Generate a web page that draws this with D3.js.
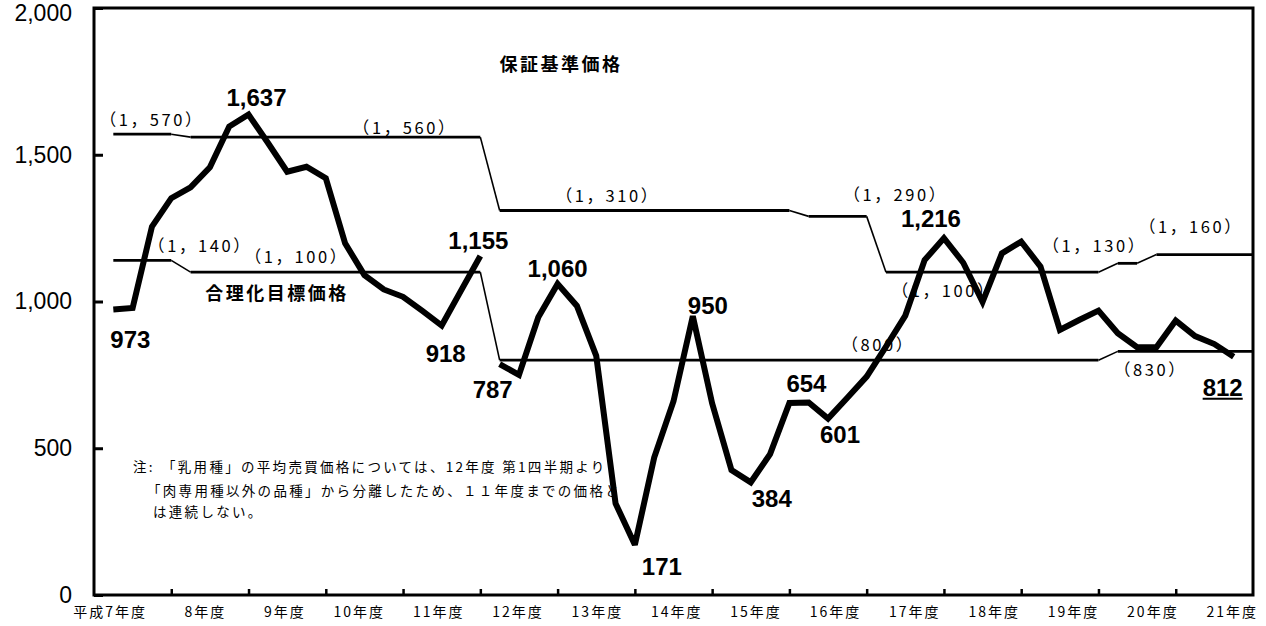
<!DOCTYPE html>
<html>
<head>
<meta charset="utf-8">
<script src="https://cdn.jsdelivr.net/npm/d3@7"></script>
<style>
  html, body { margin: 0; padding: 0; background: #fff; }
  svg { display: block; }
</style>
</head>
<body>
<div id="chart"></div>
<script>
// fiscal year labels
const fiscalYears = ['平成7年度', '8年度', '9年度', '10年度', '11年度', '12年度', '13年度',
  '14年度', '15年度', '16年度', '17年度', '18年度', '19年度', '20年度', '21年度'];

// quarterly average price, H7 Q1 - H11 Q4 (肉専用種以外の品種)
const priceOld = [973, 978, 1255, 1352, 1389, 1457, 1596, 1637, 1541, 1442,
  1459, 1420, 1198, 1090, 1041, 1016, 968, 918, 1037, 1155];

// quarterly average price, H12 Q1 - H21 Q3 (乳用種)
const priceNew = [787, 750, 946, 1060, 985, 815, 312, 171, 468, 660,
  950, 653, 426, 384, 480, 654, 656, 601, 672, 744,
  846, 952, 1141, 1216, 1132, 999, 1164, 1204, 1119, 903,
  937, 969, 892, 844, 844, 935, 882, 855, 812];

// 保証基準価格, per quarter
const guaranteePrice = [
  1570, 1570, 1570, 1570,
  1560, 1560, 1560, 1560,
  1560, 1560, 1560, 1560,
  1560, 1560, 1560, 1560,
  1560, 1560, 1560, 1560,
  1310, 1310, 1310, 1310,
  1310, 1310, 1310, 1310,
  1310, 1310, 1310, 1310,
  1310, 1310, 1310, 1310,
  1290, 1290, 1290, 1290,
  1100, 1100, 1100, 1100,
  1100, 1100, 1100, 1100,
  1100, 1100, 1100, 1100,
  1130, 1130, 1160, 1160,
  1160, 1160, 1160, 1160];

// 合理化目標価格, per quarter
const targetPrice = [
  1140, 1140, 1140, 1140,
  1100, 1100, 1100, 1100,
  1100, 1100, 1100, 1100,
  1100, 1100, 1100, 1100,
  1100, 1100, 1100, 1100,
  800, 800, 800, 800,
  800, 800, 800, 800,
  800, 800, 800, 800,
  800, 800, 800, 800,
  800, 800, 800, 800,
  800, 800, 800, 800,
  800, 800, 800, 800,
  800, 800, 800, 800,
  830, 830, 830, 830,
  830, 830, 830, 830];

const yTicks = [0, 500, 1000, 1500, 2000];

// labelled quarters (index into the combined quarterly series)
const labelledQuarters = [0, 7, 17, 19, 20, 23, 27, 30, 33, 35, 37, 43, 58];

// price-level annotations: [text, quarter position, level]
const levelNotes = [
  ['（1，570）', 2.0, 1570], ['（1，560）', 15.1, 1560], ['（1，140）', 4.5, 1140],
  ['（1，100）', 9.5, 1100], ['（1，310）', 25.6, 1310], ['（1，290）', 40.5, 1290],
  ['（1，100）', 43.0, 1100], ['（800）', 39.6, 800], ['（1，130）', 50.8, 1130],
  ['（1，160）', 55.8, 1160], ['（830）', 53.7, 830]
];

const noteLines = [
  '「乳用種」の平均売買価格については、12年度 第1四半期より',
  '「肉専用種以外の品種」から分離したため、１１年度までの価格と',
  'は連続しない。'
];

// ---- layout ----
const width = 1266, height = 626;
const plotLeft = 94, plotRight = 1253, plotTop = 8, plotBottom = 595;

const svg = d3.select('#chart').append('svg')
  .attr('width', width)
  .attr('height', height);

// quarter index -> x (points sit at the end of each quarter)
const x = d3.scaleLinear().domain([-1, 59]).range([plotLeft, plotRight]);
const y = d3.scaleLinear().domain([0, 2000]).range([plotBottom, plotTop]);
const yearLabelX = d3.scalePoint().domain(fiscalYears).range([147, 1258]);

const jp = '"Noto Sans CJK JP", "Noto Sans", sans-serif';
const num = '"Liberation Sans", Arial, sans-serif';

// y axis (ticks inside)
const yAxis = svg.append('g')
  .attr('transform', `translate(${plotLeft},0)`)
  .call(d3.axisLeft(y).tickValues(yTicks).tickSize(-9).tickPadding(22).tickFormat(d3.format(',')));
yAxis.select('.domain').remove();
yAxis.selectAll('line').attr('stroke', '#000').attr('stroke-width', 3);
yAxis.selectAll('text')
  .attr('fill', '#000')
  .attr('dy', d => d === 2000 ? '0.55em' : '0.32em')
  .style('font-family', num)
  .style('font-size', '23px');

// x axis ticks at fiscal year boundaries
const yearBounds = d3.range(1, fiscalYears.length).map(k => 4 * k - 1);
const xAxis = svg.append('g')
  .attr('transform', `translate(0,${plotBottom})`)
  .call(d3.axisBottom(x).tickValues(yearBounds).tickSize(-6).tickFormat(''));
xAxis.select('.domain').remove();
xAxis.selectAll('line').attr('stroke', '#000').attr('stroke-width', 2.5);

svg.append('g').selectAll('text')
  .data(fiscalYears)
  .join('text')
  .attr('x', d => yearLabelX(d))
  .attr('y', 617)
  .attr('text-anchor', 'end')
  .style('font-family', jp)
  .style('font-size', '14px')
  .style('letter-spacing', '2px')
  .text(d => d);

// frame
svg.append('rect')
  .attr('x', plotLeft).attr('y', plotTop)
  .attr('width', plotRight - plotLeft).attr('height', plotBottom - plotTop)
  .attr('fill', 'none')
  .attr('stroke', '#000')
  .attr('stroke-width', 3);

// step lines: flat runs drawn heavier, transitions thin
function drawSteps(values) {
  const g = svg.append('g').attr('stroke', '#000').attr('fill', 'none');
  let start = 0;
  for (let i = 1; i <= values.length; i++) {
    if (i === values.length || values[i] !== values[start]) {
      g.append('line')
        .attr('x1', x(start)).attr('x2', Math.min(x(i - 1), plotRight))
        .attr('y1', y(values[start])).attr('y2', y(values[start]))
        .attr('stroke-width', 2.8);
      if (i < values.length) {
        g.append('line')
          .attr('x1', x(i - 1)).attr('y1', y(values[i - 1]))
          .attr('x2', x(i)).attr('y2', y(values[i]))
          .attr('stroke-width', 1.6);
      }
      start = i;
    }
  }
}
drawSteps(guaranteePrice);
drawSteps(targetPrice);

// level annotations
const levelDy = [-8, -3, -8.5, -9, -8.5, -15, 25, -9, -11, -21.5, 24.6];
svg.append('g').selectAll('text')
  .data(levelNotes)
  .join('text')
  .attr('x', d => x(d[1]))
  .attr('y', (d, i) => y(d[2]) + levelDy[i])
  .attr('text-anchor', 'middle')
  .style('font-family', jp)
  .style('font-size', '16.5px')
  .style('letter-spacing', '2.6px')
  .text(d => d[0]);

// series titles
const titleStyle = sel => sel
  .attr('text-anchor', 'middle')
  .style('font-family', jp)
  .style('font-size', '18px')
  .style('font-weight', 'bold')
  .style('letter-spacing', '2.5px');
svg.append('text').attr('x', 561).attr('y', 71).text('保証基準価格').call(titleStyle);
svg.append('text').attr('x', 277).attr('y', 300).text('合理化目標価格').call(titleStyle);

// footnote
const note = svg.append('g')
  .style('font-family', jp)
  .style('font-size', '13.5px')
  .style('letter-spacing', '2.3px');
note.append('text').attr('x', 133).attr('y', 472).text('注:');
note.append('text').attr('x', 162).attr('y', 472).text(noteLines[0]);
note.append('text').attr('x', 147).attr('y', 496).text(noteLines[1]);
note.append('text').attr('x', 153).attr('y', 517).text(noteLines[2]);

// price line (two separate pieces, not connected across the break)
const allPrices = priceOld.concat(priceNew);
const line = d3.line().x(d => x(d.i)).y(d => y(d.v));
const pieces = [
  priceOld.map((v, i) => ({ i, v })),
  priceNew.map((v, i) => ({ i: i + priceOld.length, v }))
];
svg.append('g').selectAll('path')
  .data(pieces)
  .join('path')
  .attr('d', line)
  .attr('fill', 'none')
  .attr('stroke', '#000')
  .attr('stroke-width', 6)
  .attr('stroke-linejoin', 'miter')
  .attr('stroke-miterlimit', 3);

// value labels
const labelOffset = {
  0: [17, 39], 7: [8, -8.5], 17: [4, 36], 19: [-2, -7], 20: [-7, 34],
  23: [0, -7], 27: [27, 30], 30: [15, -2], 33: [21, 25], 35: [17, -11],
  37: [12, 24], 43: [-13, -11], 58: [-11, 39]
};
const fmt = d3.format(',');
const valueLabels = svg.append('g').selectAll('text')
  .data(labelledQuarters)
  .join('text')
  .attr('x', i => x(i) + labelOffset[i][0])
  .attr('y', i => y(allPrices[i]) + labelOffset[i][1])
  .attr('text-anchor', 'middle')
  .style('font-family', num)
  .style('font-size', '24px')
  .style('font-weight', 'bold')
  .text(i => fmt(allPrices[i]));

// latest value is underlined
valueLabels.filter(i => i === allPrices.length - 1).each(function() {
  const b = this.getBBox();
  svg.append('line')
    .attr('x1', b.x).attr('x2', b.x + b.width)
    .attr('y1', b.y + b.height - 2).attr('y2', b.y + b.height - 2)
    .attr('stroke', '#000').attr('stroke-width', 2);
});
</script>
</body>
</html>
